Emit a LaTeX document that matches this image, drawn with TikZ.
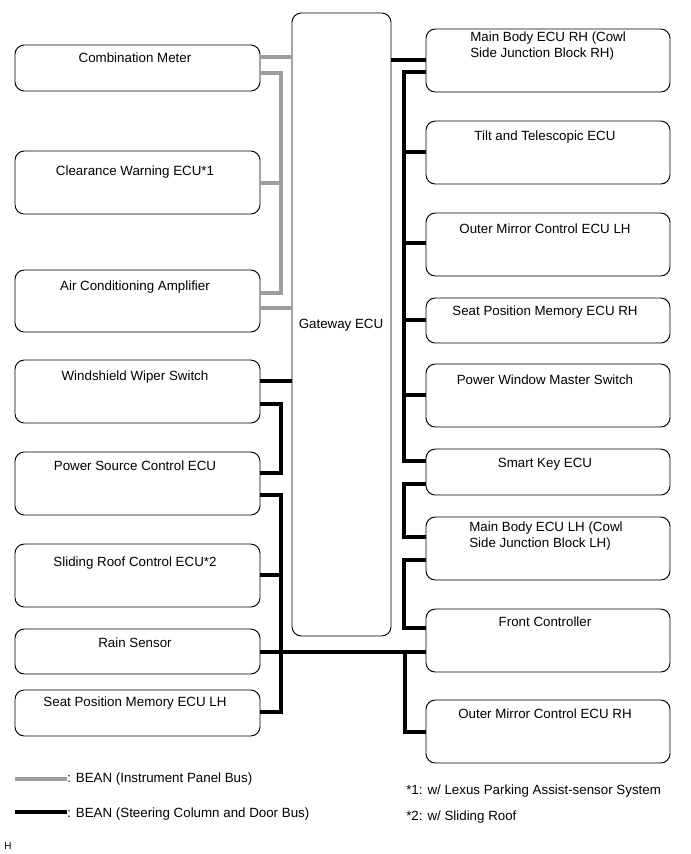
\documentclass[tikz,border=0pt]{standalone}
\usepackage{fontspec}
\setmainfont{Liberation Sans}
\usetikzlibrary{fit}

\begin{document}
\begin{tikzpicture}[x=0.75pt, y=-0.75pt,
    ecu/.style={draw, line width=0.7pt, rounded corners=7pt, inner sep=0pt},
    ecutext/.style={anchor=base, font=\fontsize{10}{12}\selectfont},
    eculeft/.style={anchor=base west, inner xsep=0pt, font=\fontsize{10}{12}\selectfont},
    ipbus/.style={line width=2.6pt, black!38},
    scbus/.style={line width=2.7pt, black},
    scthin/.style={line width=2.3pt, black}]
  \useasboundingbox (0,0) rectangle (691,854);
  %--- Gateway
  \node[ecu, fit={(292,13) (391,636)}] (gw) {};
  \node[ecutext] at (341,328) {Gateway ECU};
  %--- Left side ECUs
  \node[ecu, fit={(15,45) (260,91)}] (cm) {};
  \node[ecutext] at (135,62) {Combination Meter};
  \node[ecu, fit={(15,151) (260,214)}] (cw) {};
  \node[ecutext] at (135,175) {Clearance Warning ECU*1};
  \node[ecu, fit={(15,270) (260,332)}] (ac) {};
  \node[ecutext] at (135,290) {Air Conditioning Amplifier};
  \node[ecu, fit={(15,360) (260,423)}] (ww) {};
  \node[ecutext] at (135,380) {Windshield Wiper Switch};
  \node[ecu, fit={(15,452) (260,515)}] (ps) {};
  \node[ecutext] at (135,470) {Power Source Control ECU};
  \node[ecu, fit={(15,544) (260,607)}] (sr) {};
  \node[ecutext] at (135,566) {Sliding Roof Control ECU*2};
  \node[ecu, fit={(15,629) (260,674)}] (rs) {};
  \node[ecutext] at (135,647) {Rain Sensor};
  \node[ecu, fit={(15,690) (260,736)}] (spl) {};
  \node[ecutext] at (135,706) {Seat Position Memory ECU LH};
  %--- Right side ECUs
  \node[ecu, fit={(426,29) (670,92)}] (mbr) {};
  \node[eculeft] at (470,41) {Main Body ECU RH (Cowl};
  \node[eculeft] at (470,57) {Side Junction Block RH)};
  \node[ecu, fit={(426,121) (670,184)}] (tt) {};
  \node[ecutext] at (545,140) {Tilt and Telescopic ECU};
  \node[ecu, fit={(426,213) (670,276)}] (oml) {};
  \node[ecutext] at (545,233) {Outer Mirror Control ECU LH};
  \node[ecu, fit={(426,298) (670,343)}] (spr) {};
  \node[ecutext] at (545,315) {Seat Position Memory ECU RH};
  \node[ecu, fit={(426,364) (670,427)}] (pw) {};
  \node[ecutext] at (545,384) {Power Window Master Switch};
  \node[ecu, fit={(426,449) (670,495)}] (sk) {};
  \node[ecutext] at (545,467) {Smart Key ECU};
  \node[ecu, fit={(426,517) (670,580)}] (mbl) {};
  \node[eculeft] at (469,531) {Main Body ECU LH (Cowl};
  \node[eculeft] at (469,547) {Side Junction Block LH)};
  \node[ecu, fit={(426,609) (670,672)}] (fc) {};
  \node[ecutext] at (545,626) {Front Controller};
  \node[ecu, fit={(426,700) (670,763)}] (omr) {};
  \node[ecutext] at (545,718) {Outer Mirror Control ECU RH};
  %--- Bus trunks
  \coordinate (lbus) at (281,0);
  \coordinate (rbus) at (404,0);
  %--- Instrument panel bus
  \draw[ipbus] (cm.east |- 0,57) -- (gw.west |- 0,57);
  \draw[ipbus] (cm.east |- 0,73) -| (lbus |- 0,293) -- (ac.east |- 0,293);
  \draw[ipbus] (cw.east |- 0,183) -- (lbus |- 0,183);
  \draw[ipbus] (ac.east |- 0,308) -- (gw.west |- 0,308);
  %--- Steering column and door bus, left
  \draw[scbus] (ww.east |- 0,381) -- (gw.west |- 0,381);
  \draw[scbus] (ww.east |- 0,404) -| (lbus |- 0,473) -- (ps.east |- 0,473);
  \draw[scbus] (ps.east |- 0,495) -| (lbus |- 0,712) -- (spl.east |- 0,712);
  \draw[scbus] (sr.east |- 0,575) -- (lbus |- 0,575);
  \draw[scthin] (rs.east |- 0,652) -- (fc.west |- 0,652);
  %--- Steering column and door bus, right
  \draw[scbus] (gw.east |- 0,60) -- (mbr.west |- 0,60);
  \draw[scbus] (mbr.west |- 0,72) -| (rbus |- 0,461) -- (sk.west |- 0,461);
  \draw[scbus] (rbus |- 0,152) -- (tt.west |- 0,152);
  \draw[scbus] (rbus |- 0,243) -- (oml.west |- 0,243);
  \draw[scbus] (rbus |- 0,320) -- (spr.west |- 0,320);
  \draw[scbus] (rbus |- 0,395) -- (pw.west |- 0,395);
  \draw[scbus] (sk.west |- 0,484) -| (rbus |- 0,537) -- (mbl.west |- 0,537);
  \draw[scbus] (mbl.west |- 0,560) -| (rbus |- 0,628) -- (fc.west |- 0,628);
  \draw[scbus] (405,652) -- (405,732) -- (omr.west |- 0,732);
  %--- Legend
  \node[eculeft] (legip) at (67,782) {: BEAN (Instrument Panel Bus)};
  \draw[ipbus] (15,779) -- (legip.west |- 0,779);
  \node[eculeft] (legsc) at (67,817) {: BEAN (Steering Column and Door Bus)};
  \draw[scbus] (15,812) -- (legsc.west |- 0,812);
  \node[eculeft] at (406,794) {*1: w/ Lexus Parking Assist-sensor System};
  \node[eculeft] at (406,820) {*2: w/ Sliding Roof};
  \node[anchor=base west, inner xsep=0pt, font=\fontsize{7.5}{9}\selectfont] at (4,849) {H};
\end{tikzpicture}
\end{document}
